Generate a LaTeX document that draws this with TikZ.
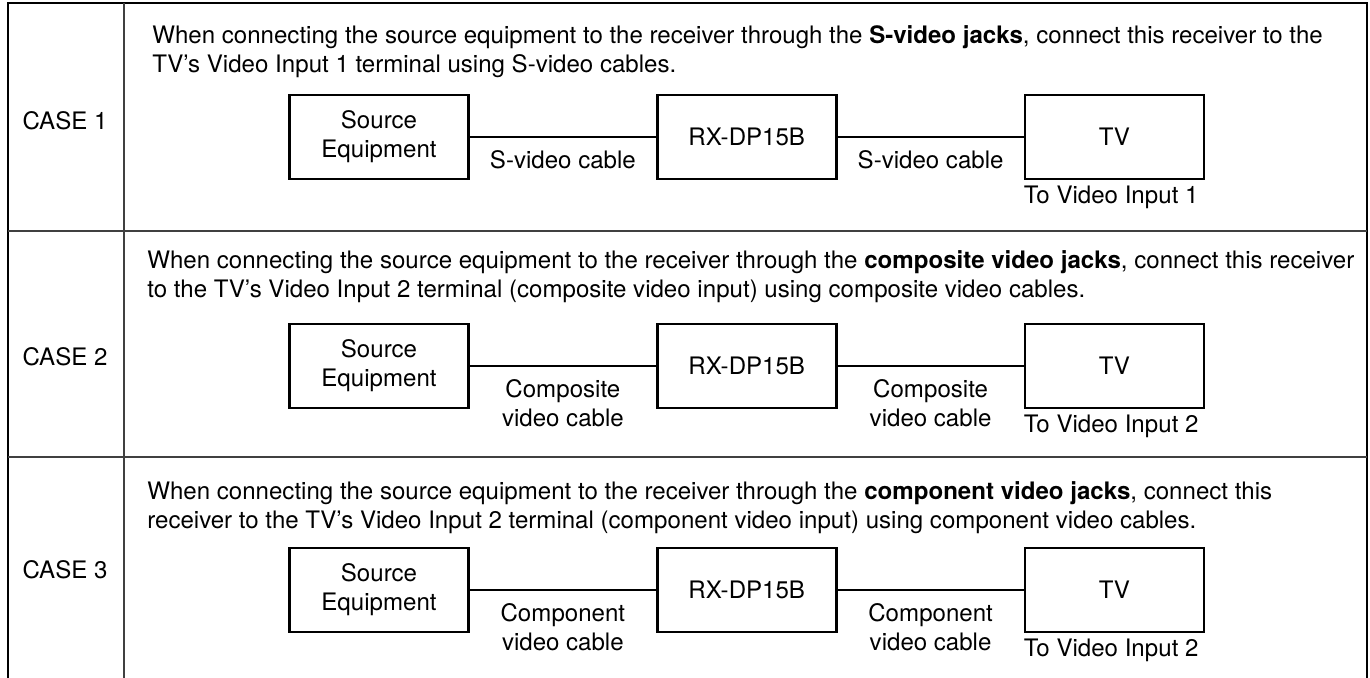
\documentclass[tikz,border=0pt]{standalone}
\usepackage{fontspec}
\setmainfont{TeX Gyre Heros}
\usetikzlibrary{positioning}

\begin{document}
\begin{tikzpicture}[x=0.02cm,y=0.02cm,
  font=\fontsize{13.7}{16.6}\selectfont,
  node distance=3.72cm,
  unit/.style={draw, line width=1.6pt, minimum width=3.58cm, minimum height=1.68cm, align=center, inner sep=0pt},
  cable/.style={line width=1.6pt},
  cablelabel/.style={below=7pt, align=center, inner sep=0pt},
  note/.style={anchor=north west, align=left, inner sep=0pt},
  tvinput/.style={anchor=north west, inner xsep=0pt, inner ysep=3pt},
  rule/.style={line width=0.8pt, black!75}]

\useasboundingbox (0,0) rectangle (1370,678);

% Table
\draw[line width=1.1pt] (8,0) -- (8,675) -- (1367,675) -- (1367,0);
\draw[rule] (124,0) -- (124,675);
\draw[rule] (8,447) -- (1367,447);
\draw[rule] (8,221) -- (1367,221);

% Case 1
\node (case1) at (65,557) {CASE 1};
\node[note] (text1) at (152,653) {When connecting the source equipment to the receiver through the \textbf{S-video jacks}, connect this receiver to the\\TV’s Video Input 1 terminal using S-video cables.};
\node[unit] (src1) at (379,541) {Source\\Equipment};
\node[unit, right=of src1] (rx1) {RX-DP15B};
\node[unit, right=of rx1] (tv1) {TV};
\draw[cable] (src1) -- (rx1) node[cablelabel, midway] (cab1a) {S-video cable};
\draw[cable] (rx1) -- (tv1) node[cablelabel, midway] (cab1b) {S-video cable};
\node[tvinput] (in1) at (tv1.south west) {To Video Input 1};

% Case 2
\node (case2) at (65,321) {CASE 2};
\node[note] (text2) at (147,428) {When connecting the source equipment to the receiver through the \textbf{composite video jacks}, connect this receiver\\to the TV’s Video Input 2 terminal (composite video input) using composite video cables.};
\node[unit] (src2) at (379,312) {Source\\Equipment};
\node[unit, right=of src2] (rx2) {RX-DP15B};
\node[unit, right=of rx2] (tv2) {TV};
\draw[cable] (src2) -- (rx2) node[cablelabel, midway] (cab2a) {Composite\\video cable};
\draw[cable] (rx2) -- (tv2) node[cablelabel, midway] (cab2b) {Composite\\video cable};
\node[tvinput] (in2) at (tv2.south west) {To Video Input 2};

% Case 3
\node (case3) at (65,108) {CASE 3};
\node[note] (text3) at (147,197) {When connecting the source equipment to the receiver through the \textbf{component video jacks}, connect this\\receiver to the TV’s Video Input 2 terminal (component video input) using component video cables.};
\node[unit] (src3) at (379,88) {Source\\Equipment};
\node[unit, right=of src3] (rx3) {RX-DP15B};
\node[unit, right=of rx3] (tv3) {TV};
\draw[cable] (src3) -- (rx3) node[cablelabel, midway] (cab3a) {Component\\video cable};
\draw[cable] (rx3) -- (tv3) node[cablelabel, midway] (cab3b) {Component\\video cable};
\node[tvinput] (in3) at (tv3.south west) {To Video Input 2};

\end{tikzpicture}
\end{document}
